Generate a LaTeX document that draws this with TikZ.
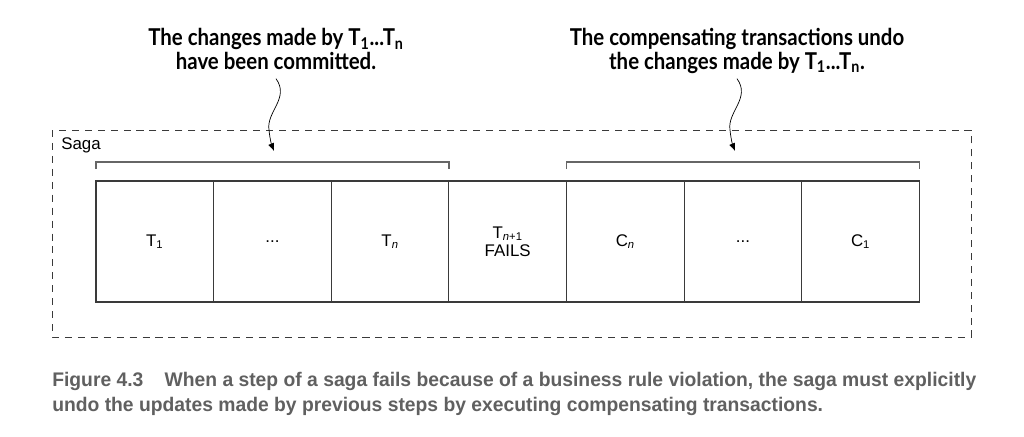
\documentclass[tikz,border=0pt]{standalone}
\usepackage{fontspec}
\setmainfont{Liberation Sans}
\newfontfamily\headfont{Lato}
\usetikzlibrary{positioning,arrows.meta}

\definecolor{boxgray}{HTML}{3A3A3A}
\definecolor{bracketgray}{HTML}{666666}
\definecolor{captiongray}{HTML}{606060}

\tikzset{
  stepbox/.style={draw=boxgray, line width=0.8pt, outer sep=0pt, inner sep=0pt,
    minimum width=2.94cm, minimum height=3.025cm, align=center, font=\fontsize{12}{13}\selectfont},
  bracket/.style={draw=bracketgray, line width=1.1pt},
  sagaline/.style={draw=boxgray, line width=0.7pt, dash pattern=on 5pt off 4.2pt},
  headtext/.style={inner sep=2pt, font=\headfont\bfseries\fontsize{16.5}{15}\selectfont},
  wavy/.style={line width=0.5pt, -{Latex[length=5.5pt,width=4.5pt]}},
  captext/.style={anchor=base west, inner sep=0pt, text=captiongray, font=\bfseries\fontsize{14}{16}\selectfont}
}
\newcommand\squeeze[2]{\scalebox{#1}[1]{#2}}

\begin{document}
\begin{tikzpicture}[x=0.025cm, y=-0.025cm]
\useasboundingbox (0,0) rectangle (1024,436);

% saga frame
\draw[sagaline] (52,130) rectangle (971,337);
\node[anchor=base west, inner sep=0pt, font=\fontsize{12}{13}\selectfont] (saga) at (61,149) {Saga};

% the steps
\node[stepbox, anchor=north west] (t1) at (96,181) {T\textsubscript{1}};
\node[stepbox, right=0pt of t1] (tdots) {...};
\node[stepbox, right=0pt of tdots] (tn) {T\textsubscript{\textit{n}}};
\node[stepbox, right=0pt of tn] (tfail) {T\textsubscript{\textit{n}+1}\\FAILS};
\node[stepbox, right=0pt of tfail] (cn) {C\textsubscript{\textit{n}}};
\node[stepbox, right=0pt of cn] (cdots) {...};
\node[stepbox, right=0pt of cdots] (c1) {C\textsubscript{1}};

% brackets
\draw[bracket] ([yshift=0.3cm]t1.north west) |- ([yshift=0.475cm]tn.north east) -- ([yshift=0.3cm]tn.north east);
\draw[bracket] ([yshift=0.3cm]cn.north west) |- ([yshift=0.475cm]c1.north east) -- ([yshift=0.3cm]c1.north east);

% notes
\node[headtext] (head1) at (276,52) {\squeeze{0.88}{\begin{tabular}{@{}c@{}}The changes made by T\textsubscript{1}...T\textsubscript{n}\\have been committed.\end{tabular}}};
\node[headtext] (head2) at (737,52) {\squeeze{0.88}{\begin{tabular}{@{}c@{}}The compensating transactions undo\\the changes made by T\textsubscript{1}...T\textsubscript{n}.\end{tabular}}};

\coordinate (tip1) at (274,151);
\coordinate (tip2) at (735,151);
\draw[wavy] (head1.south) .. controls (290,98) and (266,112) .. (269,130) .. controls (270,140) and (272,146) .. (tip1);
\draw[wavy] (head2.south) .. controls (751,98) and (727,112) .. (730,130) .. controls (731,140) and (733,146) .. (tip2);

% caption
\node[captext] (cap1) at (52,386) {\squeeze{0.98}{Figure 4.3\hspace{1.1em}When a step of a saga fails because of a business rule violation, the saga must explicitly}};
\node[captext] (cap2) at (52,411) {\squeeze{0.98}{undo the updates made by previous steps by executing compensating transactions.}};
\end{tikzpicture}
\end{document}
